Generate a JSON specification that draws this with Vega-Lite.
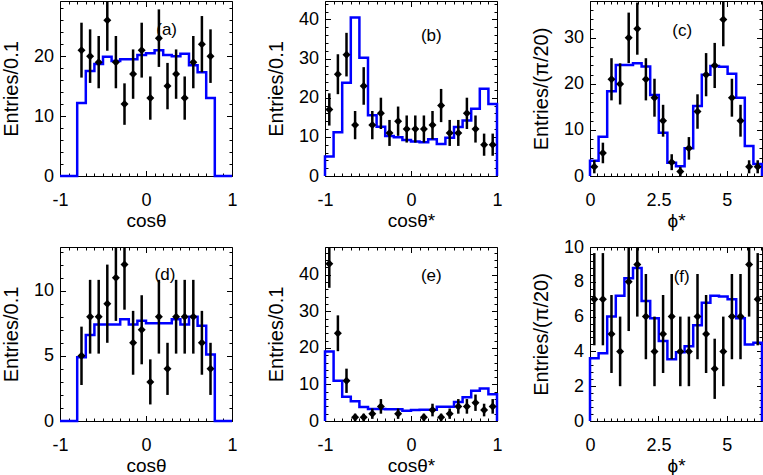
{
"$schema": "https://vega.github.io/schema/vega-lite/v6.json",
"padding": {"left": 0, "top": 0, "right": 0, "bottom": 0},
"background": "white",
"columns": 3,
"spacing": {"row": 71, "column": 93},
"bounds": "flush",
"datasets": {
"hA": [{"i":0,"x":-1,"y":0},{"i":1,"x":-1,"y":0},{"i":2,"x":-0.9,"y":0},{"i":3,"x":-0.8,"y":12.2},{"i":4,"x":-0.7,"y":17.5},{"i":5,"x":-0.6,"y":18.7},{"i":6,"x":-0.5,"y":19.9},{"i":7,"x":-0.4,"y":19.2},{"i":8,"x":-0.3,"y":19.5},{"i":9,"x":-0.2,"y":19.5},{"i":10,"x":-0.1,"y":20.2},{"i":11,"x":0,"y":20.5},{"i":12,"x":0.1,"y":21},{"i":13,"x":0.2,"y":20.2},{"i":14,"x":0.3,"y":20},{"i":15,"x":0.4,"y":20.4},{"i":16,"x":0.5,"y":18.5},{"i":17,"x":0.6,"y":17.3},{"i":18,"x":0.7,"y":13},{"i":19,"x":0.8,"y":0},{"i":20,"x":0.9,"y":0},{"i":21,"x":1,"y":0},{"i":22,"x":1,"y":0}],
"pA": [{"x":-0.75,"n":21,"lo":16.42,"hi":25.58},{"x":-0.65,"n":20,"lo":15.53,"hi":24.47},{"x":-0.55,"n":19,"lo":14.64,"hi":23.36},{"x":-0.45,"n":26,"lo":20.9,"hi":31.1},{"x":-0.35,"n":19,"lo":14.64,"hi":23.36},{"x":-0.25,"n":12,"lo":8.54,"hi":15.46},{"x":-0.15,"n":17,"lo":12.88,"hi":21.12},{"x":-0.05,"n":21,"lo":16.42,"hi":25.58},{"x":0.05,"n":13,"lo":9.39,"hi":16.61},{"x":0.15,"n":23,"lo":18.2,"hi":27.8},{"x":0.25,"n":15,"lo":11.13,"hi":18.87},{"x":0.35,"n":17,"lo":12.88,"hi":21.12},{"x":0.45,"n":13,"lo":9.39,"hi":16.61},{"x":0.55,"n":19,"lo":14.64,"hi":23.36},{"x":0.65,"n":22,"lo":17.31,"hi":26.69},{"x":0.75,"n":20,"lo":15.53,"hi":24.47}],
"hB": [{"i":0,"x":-1,"y":0},{"i":1,"x":-1,"y":5},{"i":2,"x":-0.9,"y":11.2},{"i":3,"x":-0.8,"y":23.8},{"i":4,"x":-0.7,"y":40.5},{"i":5,"x":-0.6,"y":30.2},{"i":6,"x":-0.5,"y":15.5},{"i":7,"x":-0.4,"y":12.6},{"i":8,"x":-0.3,"y":10.2},{"i":9,"x":-0.2,"y":9.9},{"i":10,"x":-0.1,"y":9.2},{"i":11,"x":0,"y":8.8},{"i":12,"x":0.1,"y":8.6},{"i":13,"x":0.2,"y":9.4},{"i":14,"x":0.3,"y":8.2},{"i":15,"x":0.4,"y":9.8},{"i":16,"x":0.5,"y":12.5},{"i":17,"x":0.6,"y":14.2},{"i":18,"x":0.7,"y":17.2},{"i":19,"x":0.8,"y":22.3},{"i":20,"x":0.9,"y":18.4},{"i":21,"x":1,"y":18.4},{"i":22,"x":1,"y":0}],
"pB": [{"x":-0.95,"n":17,"lo":12.88,"hi":21.12},{"x":-0.85,"n":26,"lo":20.9,"hi":31.1},{"x":-0.75,"n":31,"lo":25.43,"hi":36.57},{"x":-0.65,"n":13,"lo":9.39,"hi":16.61},{"x":-0.55,"n":23,"lo":18.2,"hi":27.8},{"x":-0.45,"n":13,"lo":9.39,"hi":16.61},{"x":-0.35,"n":16,"lo":12,"hi":20},{"x":-0.25,"n":11,"lo":7.68,"hi":14.32},{"x":-0.15,"n":14,"lo":10.26,"hi":17.74},{"x":-0.05,"n":12,"lo":8.54,"hi":15.46},{"x":0.05,"n":12,"lo":8.54,"hi":15.46},{"x":0.15,"n":12,"lo":8.54,"hi":15.46},{"x":0.25,"n":13,"lo":9.39,"hi":16.61},{"x":0.35,"n":18,"lo":13.76,"hi":22.24},{"x":0.45,"n":11,"lo":7.68,"hi":14.32},{"x":0.55,"n":11,"lo":7.68,"hi":14.32},{"x":0.65,"n":16,"lo":12,"hi":20},{"x":0.75,"n":12,"lo":8.54,"hi":15.46},{"x":0.85,"n":8,"lo":5.17,"hi":10.83},{"x":0.95,"n":8,"lo":5.17,"hi":10.83}],
"hC": [{"i":0,"x":0,"y":0},{"i":1,"x":0,"y":3.3},{"i":2,"x":0.314,"y":8.5},{"i":3,"x":0.628,"y":18.4},{"i":4,"x":0.942,"y":24.1},{"i":5,"x":1.257,"y":24.1},{"i":6,"x":1.571,"y":24.5},{"i":7,"x":1.885,"y":23.8},{"i":8,"x":2.199,"y":17.6},{"i":9,"x":2.513,"y":9.4},{"i":10,"x":2.827,"y":2.9},{"i":11,"x":3.142,"y":2.1},{"i":12,"x":3.456,"y":6},{"i":13,"x":3.77,"y":15.2},{"i":14,"x":4.084,"y":22},{"i":15,"x":4.398,"y":23.9},{"i":16,"x":4.712,"y":23.7},{"i":17,"x":5.027,"y":22.2},{"i":18,"x":5.341,"y":17},{"i":19,"x":5.655,"y":6.5},{"i":20,"x":5.969,"y":2.6},{"i":21,"x":6.283,"y":2.6},{"i":22,"x":6.283,"y":0}],
"pC": [{"x":0.157,"n":2,"lo":0.586,"hi":3.414},{"x":0.471,"n":5,"lo":2.764,"hi":7.236},{"x":0.785,"n":21,"lo":16.42,"hi":25.58},{"x":1.1,"n":20,"lo":15.53,"hi":24.47},{"x":1.414,"n":30,"lo":24.52,"hi":35.48},{"x":1.728,"n":32,"lo":26.34,"hi":37.66},{"x":2.042,"n":21,"lo":16.42,"hi":25.58},{"x":2.356,"n":17,"lo":12.88,"hi":21.12},{"x":2.67,"n":12,"lo":8.54,"hi":15.46},{"x":2.985,"n":3,"lo":1.27,"hi":4.73},{"x":3.299,"n":1,"lo":0,"hi":2},{"x":3.613,"n":6,"lo":3.55,"hi":8.45},{"x":3.927,"n":14,"lo":10.26,"hi":17.74},{"x":4.241,"n":22,"lo":17.31,"hi":26.69},{"x":4.555,"n":24,"lo":19.1,"hi":28.9},{"x":4.869,"n":34,"lo":28.17,"hi":39.83},{"x":5.184,"n":17,"lo":12.88,"hi":21.12},{"x":5.498,"n":12,"lo":8.54,"hi":15.46},{"x":5.812,"n":2,"lo":0.586,"hi":3.414},{"x":6.126,"n":2,"lo":0.586,"hi":3.414}],
"hD": [{"i":0,"x":-1,"y":0},{"i":1,"x":-1,"y":0},{"i":2,"x":-0.9,"y":0},{"i":3,"x":-0.8,"y":4.9},{"i":4,"x":-0.7,"y":6.6},{"i":5,"x":-0.6,"y":7.4},{"i":6,"x":-0.5,"y":7.4},{"i":7,"x":-0.4,"y":7.4},{"i":8,"x":-0.3,"y":7.8},{"i":9,"x":-0.2,"y":7.4},{"i":10,"x":-0.1,"y":7.7},{"i":11,"x":0,"y":7.5},{"i":12,"x":0.1,"y":7.5},{"i":13,"x":0.2,"y":7.5},{"i":14,"x":0.3,"y":7.8},{"i":15,"x":0.4,"y":7.4},{"i":16,"x":0.5,"y":8},{"i":17,"x":0.6,"y":7.3},{"i":18,"x":0.7,"y":5.1},{"i":19,"x":0.8,"y":0},{"i":20,"x":0.9,"y":0},{"i":21,"x":1,"y":0},{"i":22,"x":1,"y":0}],
"pD": [{"x":-0.75,"n":5,"lo":2.76,"hi":7.24},{"x":-0.65,"n":8,"lo":5.17,"hi":10.83},{"x":-0.55,"n":8,"lo":5.17,"hi":10.83},{"x":-0.45,"n":9,"lo":6,"hi":12},{"x":-0.35,"n":11,"lo":7.68,"hi":14.32},{"x":-0.25,"n":12,"lo":8.54,"hi":15.46},{"x":-0.15,"n":6,"lo":3.55,"hi":8.45},{"x":-0.05,"n":7,"lo":4.35,"hi":9.65},{"x":0.05,"n":3,"lo":1.27,"hi":4.73},{"x":0.15,"n":8,"lo":5.17,"hi":10.83},{"x":0.25,"n":4,"lo":2,"hi":6},{"x":0.35,"n":8,"lo":5.17,"hi":10.83},{"x":0.45,"n":8,"lo":5.17,"hi":10.83},{"x":0.55,"n":8,"lo":5.17,"hi":10.83},{"x":0.65,"n":6,"lo":3.55,"hi":8.45},{"x":0.75,"n":4,"lo":2,"hi":6}],
"hE": [{"i":0,"x":-1,"y":0},{"i":1,"x":-1,"y":19},{"i":2,"x":-0.9,"y":11},{"i":3,"x":-0.8,"y":6.6},{"i":4,"x":-0.7,"y":5.4},{"i":5,"x":-0.6,"y":3.8},{"i":6,"x":-0.5,"y":3.3},{"i":7,"x":-0.4,"y":3.3},{"i":8,"x":-0.3,"y":3.2},{"i":9,"x":-0.2,"y":3.2},{"i":10,"x":-0.1,"y":2.8},{"i":11,"x":0,"y":3},{"i":12,"x":0.1,"y":3.1},{"i":13,"x":0.2,"y":3.1},{"i":14,"x":0.3,"y":3.9},{"i":15,"x":0.4,"y":3.9},{"i":16,"x":0.5,"y":5.2},{"i":17,"x":0.6,"y":6.5},{"i":18,"x":0.7,"y":8.3},{"i":19,"x":0.8,"y":8.9},{"i":20,"x":0.9,"y":7.3},{"i":21,"x":1,"y":7.3},{"i":22,"x":1,"y":0}],
"pE": [{"x":-0.95,"n":43,"lo":36.44,"hi":49.56},{"x":-0.85,"n":24,"lo":19.1,"hi":28.9},{"x":-0.75,"n":11,"lo":7.68,"hi":14.32},{"x":-0.65,"n":1,"lo":0,"hi":2},{"x":-0.55,"n":1,"lo":0,"hi":2},{"x":-0.45,"n":2,"lo":0.586,"hi":3.414},{"x":-0.35,"n":4,"lo":2,"hi":6},{"x":-0.15,"n":2,"lo":0.586,"hi":3.414},{"x":0.15,"n":1,"lo":0,"hi":2},{"x":0.25,"n":3,"lo":1.27,"hi":4.73},{"x":0.35,"n":1,"lo":0,"hi":2},{"x":0.45,"n":2,"lo":0.586,"hi":3.414},{"x":0.55,"n":4,"lo":2,"hi":6},{"x":0.65,"n":4,"lo":2,"hi":6},{"x":0.75,"n":5,"lo":2.76,"hi":7.24},{"x":0.85,"n":3,"lo":1.27,"hi":4.73},{"x":0.95,"n":4,"lo":2,"hi":6}],
"hF": [{"i":0,"x":0,"y":0},{"i":1,"x":0,"y":3.6},{"i":2,"x":0.314,"y":3.9},{"i":3,"x":0.628,"y":6},{"i":4,"x":0.942,"y":7.2},{"i":5,"x":1.257,"y":8.2},{"i":6,"x":1.571,"y":8.8},{"i":7,"x":1.885,"y":6.9},{"i":8,"x":2.199,"y":5.9},{"i":9,"x":2.513,"y":4.6},{"i":10,"x":2.827,"y":3.55},{"i":11,"x":3.142,"y":3.95},{"i":12,"x":3.456,"y":4.3},{"i":13,"x":3.77,"y":5.5},{"i":14,"x":4.084,"y":6.8},{"i":15,"x":4.398,"y":7.2},{"i":16,"x":4.712,"y":7.15},{"i":17,"x":5.027,"y":7},{"i":18,"x":5.341,"y":5.9},{"i":19,"x":5.655,"y":4.4},{"i":20,"x":5.969,"y":4.5},{"i":21,"x":6.283,"y":4.5},{"i":22,"x":6.283,"y":0}],
"pF": [{"x":0.157,"n":7,"lo":4.35,"hi":9.65},{"x":0.471,"n":7,"lo":4.35,"hi":9.65},{"x":0.785,"n":5,"lo":2.76,"hi":7.24},{"x":1.1,"n":4,"lo":2,"hi":6},{"x":1.414,"n":8,"lo":5.17,"hi":10.83},{"x":1.728,"n":9,"lo":6,"hi":12},{"x":2.042,"n":6,"lo":3.55,"hi":8.45},{"x":2.356,"n":4,"lo":2,"hi":6},{"x":2.67,"n":5,"lo":2.76,"hi":7.24},{"x":2.985,"n":6,"lo":3.55,"hi":8.45},{"x":3.299,"n":4,"lo":2,"hi":6},{"x":3.613,"n":4,"lo":2,"hi":6},{"x":3.927,"n":6,"lo":3.55,"hi":8.45},{"x":4.241,"n":5,"lo":2.76,"hi":7.24},{"x":4.555,"n":3,"lo":1.27,"hi":4.73},{"x":4.869,"n":4,"lo":2,"hi":6},{"x":5.184,"n":6,"lo":3.55,"hi":8.45},{"x":5.498,"n":6,"lo":3.55,"hi":8.45},{"x":5.812,"n":9,"lo":6,"hi":12},{"x":6.126,"n":7,"lo":4.35,"hi":9.65}]
},
"concat": [
{"width":172,"height":175,"resolve":{"axis":{"x":"independent","y":"independent"}},
"layer":[
{"data":{"values":[{"label":"(a)"}]},"mark":{"type":"text","font":"Liberation Sans","fontSize":17,"color":"black","align":"center","baseline":"middle"},
"encoding":{"x":{"datum":0.24,"type":"quantitative","scale":{"domain":[-1,1],"nice":false,"zero":false},"axis":{"orient":"top","values":[-0.9,-0.8,-0.7,-0.6,-0.5,-0.4,-0.3,-0.2,-0.1,0.1,0.2,0.3,0.4,0.5,0.6,0.7,0.8,0.9],"tickSize":-3,"labels":false,"title":null}},
"y":{"datum":24.3,"type":"quantitative","scale":{"domain":[0,29.2],"nice":false,"zero":false},"axis":{"orient":"right","values":[2,4,6,8,12,14,16,18,22,24,26,28],"tickSize":-3,"labels":false,"title":null}},
"text":{"field":"label"}}},
{"data":{"name":"hA"},"mark":{"type":"line","interpolate":"step-after","color":"#0000ff","strokeWidth":2.5},
"encoding":{"x":{"field":"x","type":"quantitative","scale":{"domain":[-1,1],"nice":false,"zero":false},"axis":{"orient":"bottom","values":[-1,0,1],"tickSize":-5.5,"labelPadding":21,"labelExpr":"toString(datum.value)","title":"cosθ","titlePadding":2.3,"titleFontSize":19}},
"y":{"field":"y","type":"quantitative","scale":{"domain":[0,29.2],"nice":false,"zero":false},"axis":{"orient":"left","values":[0,10,20],"tickSize":-5.5,"labelPadding":12,"title":"Entries/0.1","titlePadding":12}},
"order":{"field":"i"}}},
{"data":{"name":"pA"},"mark":{"type":"rule","color":"black","strokeWidth":2.5,"clip":true},
"encoding":{"x":{"field":"x","type":"quantitative","scale":{"domain":[-1,1],"nice":false,"zero":false},"axis":{"orient":"bottom","values":[-0.9,-0.8,-0.7,-0.6,-0.5,-0.4,-0.3,-0.2,-0.1,0.1,0.2,0.3,0.4,0.5,0.6,0.7,0.8,0.9],"tickSize":-3,"labels":false,"title":null}},
"y":{"field":"lo","type":"quantitative","scale":{"domain":[0,29.2],"nice":false,"zero":false},"axis":{"orient":"left","values":[2,4,6,8,12,14,16,18,22,24,26,28],"tickSize":-3,"labels":false,"title":null}},
"y2":{"field":"hi"}}},
{"data":{"name":"pA"},"mark":{"type":"point","shape":"diamond","filled":true,"color":"black","size":64,"opacity":1},
"encoding":{"x":{"field":"x","type":"quantitative","scale":{"domain":[-1,1],"nice":false,"zero":false},"axis":{"orient":"top","values":[-1,0,1],"tickSize":-5.5,"labels":false,"title":null}},
"y":{"field":"n","type":"quantitative","scale":{"domain":[0,29.2],"nice":false,"zero":false},"axis":{"orient":"right","values":[0,10,20],"tickSize":-5.5,"labels":false,"title":null}}}}
]},
{"width":172,"height":175,"resolve":{"axis":{"x":"independent","y":"independent"}},
"layer":[
{"data":{"values":[{"label":"(b)"}]},"mark":{"type":"text","font":"Liberation Sans","fontSize":17,"color":"black","align":"center","baseline":"middle"},
"encoding":{"x":{"datum":0.236,"type":"quantitative","scale":{"domain":[-1,1],"nice":false,"zero":false},"axis":{"orient":"top","values":[-0.9,-0.8,-0.7,-0.6,-0.5,-0.4,-0.3,-0.2,-0.1,0.1,0.2,0.3,0.4,0.5,0.6,0.7,0.8,0.9],"tickSize":-3,"labels":false,"title":null}},
"y":{"datum":35.7,"type":"quantitative","scale":{"domain":[0,44.7],"nice":false,"zero":false},"axis":{"orient":"right","values":[2,4,6,8,12,14,16,18,22,24,26,28,32,34,36,38,42,44],"tickSize":-3,"labels":false,"title":null}},
"text":{"field":"label"}}},
{"data":{"name":"hB"},"mark":{"type":"line","interpolate":"step-after","color":"#0000ff","strokeWidth":2.5},
"encoding":{"x":{"field":"x","type":"quantitative","scale":{"domain":[-1,1],"nice":false,"zero":false},"axis":{"orient":"bottom","values":[-1,0,1],"tickSize":-5.5,"labelPadding":21,"labelExpr":"toString(datum.value)","title":"cosθ*","titlePadding":2.3,"titleFontSize":19}},
"y":{"field":"y","type":"quantitative","scale":{"domain":[0,44.7],"nice":false,"zero":false},"axis":{"orient":"left","values":[0,10,20,30,40],"tickSize":-5.5,"labelPadding":12,"title":"Entries/0.1","titlePadding":12}},
"order":{"field":"i"}}},
{"data":{"name":"pB"},"mark":{"type":"rule","color":"black","strokeWidth":2.5,"clip":true},
"encoding":{"x":{"field":"x","type":"quantitative","scale":{"domain":[-1,1],"nice":false,"zero":false},"axis":{"orient":"bottom","values":[-0.9,-0.8,-0.7,-0.6,-0.5,-0.4,-0.3,-0.2,-0.1,0.1,0.2,0.3,0.4,0.5,0.6,0.7,0.8,0.9],"tickSize":-3,"labels":false,"title":null}},
"y":{"field":"lo","type":"quantitative","scale":{"domain":[0,44.7],"nice":false,"zero":false},"axis":{"orient":"left","values":[2,4,6,8,12,14,16,18,22,24,26,28,32,34,36,38,42,44],"tickSize":-3,"labels":false,"title":null}},
"y2":{"field":"hi"}}},
{"data":{"name":"pB"},"mark":{"type":"point","shape":"diamond","filled":true,"color":"black","size":64,"opacity":1},
"encoding":{"x":{"field":"x","type":"quantitative","scale":{"domain":[-1,1],"nice":false,"zero":false},"axis":{"orient":"top","values":[-1,0,1],"tickSize":-5.5,"labels":false,"title":null}},
"y":{"field":"n","type":"quantitative","scale":{"domain":[0,44.7],"nice":false,"zero":false},"axis":{"orient":"right","values":[0,10,20,30,40],"tickSize":-5.5,"labels":false,"title":null}}}}
]},
{"width":172,"height":175,"resolve":{"axis":{"x":"independent","y":"independent"}},
"layer":[
{"data":{"values":[{"label":"(c)"}]},"mark":{"type":"text","font":"Liberation Sans","fontSize":17,"color":"black","align":"center","baseline":"middle"},
"encoding":{"x":{"datum":3.37,"type":"quantitative","scale":{"domain":[0,6.2832],"nice":false,"zero":false},"axis":{"orient":"top","values":[0.25,0.5,0.75,1,1.25,1.5,1.75,2,2.25,2.75,3,3.25,3.5,3.75,4,4.25,4.5,4.75,5.25,5.5,5.75,6,6.25],"tickSize":-3,"labels":false,"title":null}},
"y":{"datum":31.5,"type":"quantitative","scale":{"domain":[0,38],"nice":false,"zero":false},"axis":{"orient":"right","values":[2,4,6,8,12,14,16,18,22,24,26,28,32,34,36,38],"tickSize":-3,"labels":false,"title":null}},
"text":{"field":"label"}}},
{"data":{"name":"hC"},"mark":{"type":"line","interpolate":"step-after","color":"#0000ff","strokeWidth":2.5},
"encoding":{"x":{"field":"x","type":"quantitative","scale":{"domain":[0,6.2832],"nice":false,"zero":false},"axis":{"orient":"bottom","values":[0,2.5,5],"tickSize":-5.5,"labelPadding":21,"labelExpr":"toString(datum.value)","title":"ϕ*","titlePadding":2.3,"titleFontSize":19}},
"y":{"field":"y","type":"quantitative","scale":{"domain":[0,38],"nice":false,"zero":false},"axis":{"orient":"left","values":[0,10,20,30],"tickSize":-5.5,"labelPadding":12,"title":"Entries/(π/20)","titlePadding":12}},
"order":{"field":"i"}}},
{"data":{"name":"pC"},"mark":{"type":"rule","color":"black","strokeWidth":2.5,"clip":true},
"encoding":{"x":{"field":"x","type":"quantitative","scale":{"domain":[0,6.2832],"nice":false,"zero":false},"axis":{"orient":"bottom","values":[0.25,0.5,0.75,1,1.25,1.5,1.75,2,2.25,2.75,3,3.25,3.5,3.75,4,4.25,4.5,4.75,5.25,5.5,5.75,6,6.25],"tickSize":-3,"labels":false,"title":null}},
"y":{"field":"lo","type":"quantitative","scale":{"domain":[0,38],"nice":false,"zero":false},"axis":{"orient":"left","values":[2,4,6,8,12,14,16,18,22,24,26,28,32,34,36,38],"tickSize":-3,"labels":false,"title":null}},
"y2":{"field":"hi"}}},
{"data":{"name":"pC"},"mark":{"type":"point","shape":"diamond","filled":true,"color":"black","size":64,"opacity":1},
"encoding":{"x":{"field":"x","type":"quantitative","scale":{"domain":[0,6.2832],"nice":false,"zero":false},"axis":{"orient":"top","values":[0,2.5,5],"tickSize":-5.5,"labels":false,"title":null}},
"y":{"field":"n","type":"quantitative","scale":{"domain":[0,38],"nice":false,"zero":false},"axis":{"orient":"right","values":[0,10,20,30],"tickSize":-5.5,"labels":false,"title":null}}}}
]},
{"width":172,"height":174,"resolve":{"axis":{"x":"independent","y":"independent"}},
"layer":[
{"data":{"values":[{"label":"(d)"}]},"mark":{"type":"text","font":"Liberation Sans","fontSize":17,"color":"black","align":"center","baseline":"middle"},
"encoding":{"x":{"datum":0.22,"type":"quantitative","scale":{"domain":[-1,1],"nice":false,"zero":false},"axis":{"orient":"top","values":[-0.9,-0.8,-0.7,-0.6,-0.5,-0.4,-0.3,-0.2,-0.1,0.1,0.2,0.3,0.4,0.5,0.6,0.7,0.8,0.9],"tickSize":-3,"labels":false,"title":null}},
"y":{"datum":11.2,"type":"quantitative","scale":{"domain":[0,13.35],"nice":false,"zero":false},"axis":{"orient":"right","values":[1,2,3,4,6,7,8,9,11,12,13],"tickSize":-3,"labels":false,"title":null}},
"text":{"field":"label"}}},
{"data":{"name":"hD"},"mark":{"type":"line","interpolate":"step-after","color":"#0000ff","strokeWidth":2.5},
"encoding":{"x":{"field":"x","type":"quantitative","scale":{"domain":[-1,1],"nice":false,"zero":false},"axis":{"orient":"bottom","values":[-1,0,1],"tickSize":-5.5,"labelPadding":21,"labelExpr":"toString(datum.value)","title":"cosθ","titlePadding":2.3,"titleFontSize":19}},
"y":{"field":"y","type":"quantitative","scale":{"domain":[0,13.35],"nice":false,"zero":false},"axis":{"orient":"left","values":[0,5,10],"tickSize":-5.5,"labelPadding":12,"title":"Entries/0.1","titlePadding":12}},
"order":{"field":"i"}}},
{"data":{"name":"pD"},"mark":{"type":"rule","color":"black","strokeWidth":2.5,"clip":true},
"encoding":{"x":{"field":"x","type":"quantitative","scale":{"domain":[-1,1],"nice":false,"zero":false},"axis":{"orient":"bottom","values":[-0.9,-0.8,-0.7,-0.6,-0.5,-0.4,-0.3,-0.2,-0.1,0.1,0.2,0.3,0.4,0.5,0.6,0.7,0.8,0.9],"tickSize":-3,"labels":false,"title":null}},
"y":{"field":"lo","type":"quantitative","scale":{"domain":[0,13.35],"nice":false,"zero":false},"axis":{"orient":"left","values":[1,2,3,4,6,7,8,9,11,12,13],"tickSize":-3,"labels":false,"title":null}},
"y2":{"field":"hi"}}},
{"data":{"name":"pD"},"mark":{"type":"point","shape":"diamond","filled":true,"color":"black","size":64,"opacity":1},
"encoding":{"x":{"field":"x","type":"quantitative","scale":{"domain":[-1,1],"nice":false,"zero":false},"axis":{"orient":"top","values":[-1,0,1],"tickSize":-5.5,"labels":false,"title":null}},
"y":{"field":"n","type":"quantitative","scale":{"domain":[0,13.35],"nice":false,"zero":false},"axis":{"orient":"right","values":[0,5,10],"tickSize":-5.5,"labels":false,"title":null}}}}
]},
{"width":172,"height":174,"resolve":{"axis":{"x":"independent","y":"independent"}},
"layer":[
{"data":{"values":[{"label":"(e)"}]},"mark":{"type":"text","font":"Liberation Sans","fontSize":17,"color":"black","align":"center","baseline":"middle"},
"encoding":{"x":{"datum":0.236,"type":"quantitative","scale":{"domain":[-1,1],"nice":false,"zero":false},"axis":{"orient":"top","values":[-0.9,-0.8,-0.7,-0.6,-0.5,-0.4,-0.3,-0.2,-0.1,0.1,0.2,0.3,0.4,0.5,0.6,0.7,0.8,0.9],"tickSize":-3,"labels":false,"title":null}},
"y":{"datum":39.6,"type":"quantitative","scale":{"domain":[0,47.6],"nice":false,"zero":false},"axis":{"orient":"right","values":[2,4,6,8,12,14,16,18,22,24,26,28,32,34,36,38,42,44,46],"tickSize":-3,"labels":false,"title":null}},
"text":{"field":"label"}}},
{"data":{"name":"hE"},"mark":{"type":"line","interpolate":"step-after","color":"#0000ff","strokeWidth":2.5},
"encoding":{"x":{"field":"x","type":"quantitative","scale":{"domain":[-1,1],"nice":false,"zero":false},"axis":{"orient":"bottom","values":[-1,0,1],"tickSize":-5.5,"labelPadding":21,"labelExpr":"toString(datum.value)","title":"cosθ*","titlePadding":2.3,"titleFontSize":19}},
"y":{"field":"y","type":"quantitative","scale":{"domain":[0,47.6],"nice":false,"zero":false},"axis":{"orient":"left","values":[0,10,20,30,40],"tickSize":-5.5,"labelPadding":12,"title":"Entries/0.1","titlePadding":12}},
"order":{"field":"i"}}},
{"data":{"name":"pE"},"mark":{"type":"rule","color":"black","strokeWidth":2.5,"clip":true},
"encoding":{"x":{"field":"x","type":"quantitative","scale":{"domain":[-1,1],"nice":false,"zero":false},"axis":{"orient":"bottom","values":[-0.9,-0.8,-0.7,-0.6,-0.5,-0.4,-0.3,-0.2,-0.1,0.1,0.2,0.3,0.4,0.5,0.6,0.7,0.8,0.9],"tickSize":-3,"labels":false,"title":null}},
"y":{"field":"lo","type":"quantitative","scale":{"domain":[0,47.6],"nice":false,"zero":false},"axis":{"orient":"left","values":[2,4,6,8,12,14,16,18,22,24,26,28,32,34,36,38,42,44,46],"tickSize":-3,"labels":false,"title":null}},
"y2":{"field":"hi"}}},
{"data":{"name":"pE"},"mark":{"type":"point","shape":"diamond","filled":true,"color":"black","size":64,"opacity":1},
"encoding":{"x":{"field":"x","type":"quantitative","scale":{"domain":[-1,1],"nice":false,"zero":false},"axis":{"orient":"top","values":[-1,0,1],"tickSize":-5.5,"labels":false,"title":null}},
"y":{"field":"n","type":"quantitative","scale":{"domain":[0,47.6],"nice":false,"zero":false},"axis":{"orient":"right","values":[0,10,20,30,40],"tickSize":-5.5,"labels":false,"title":null}}}}
]},
{"width":172,"height":174,"resolve":{"axis":{"x":"independent","y":"independent"}},
"layer":[
{"data":{"values":[{"label":"(f)"}]},"mark":{"type":"text","font":"Liberation Sans","fontSize":17,"color":"black","align":"center","baseline":"middle"},
"encoding":{"x":{"datum":3.35,"type":"quantitative","scale":{"domain":[0,6.2832],"nice":false,"zero":false},"axis":{"orient":"top","values":[0.25,0.5,0.75,1,1.25,1.5,1.75,2,2.25,2.75,3,3.25,3.5,3.75,4,4.25,4.5,4.75,5.25,5.5,5.75,6,6.25],"tickSize":-3,"labels":false,"title":null}},
"y":{"datum":8.26,"type":"quantitative","scale":{"domain":[0,10],"nice":false,"zero":false},"axis":{"orient":"right","values":[0.4,0.8,1.2,1.6,2.4,2.8,3.2,3.6,4.4,4.8,5.2,5.6,6.4,6.8,7.2,7.6,8.4,8.8,9.2,9.6],"tickSize":-3,"labels":false,"title":null}},
"text":{"field":"label"}}},
{"data":{"name":"hF"},"mark":{"type":"line","interpolate":"step-after","color":"#0000ff","strokeWidth":2.5},
"encoding":{"x":{"field":"x","type":"quantitative","scale":{"domain":[0,6.2832],"nice":false,"zero":false},"axis":{"orient":"bottom","values":[0,2.5,5],"tickSize":-5.5,"labelPadding":21,"labelExpr":"toString(datum.value)","title":"ϕ*","titlePadding":2.3,"titleFontSize":19}},
"y":{"field":"y","type":"quantitative","scale":{"domain":[0,10],"nice":false,"zero":false},"axis":{"orient":"left","values":[0,2,4,6,8,10],"tickSize":-5.5,"labelPadding":12,"title":"Entries/(π/20)","titlePadding":12}},
"order":{"field":"i"}}},
{"data":{"name":"pF"},"mark":{"type":"rule","color":"black","strokeWidth":2.5,"clip":true},
"encoding":{"x":{"field":"x","type":"quantitative","scale":{"domain":[0,6.2832],"nice":false,"zero":false},"axis":{"orient":"bottom","values":[0.25,0.5,0.75,1,1.25,1.5,1.75,2,2.25,2.75,3,3.25,3.5,3.75,4,4.25,4.5,4.75,5.25,5.5,5.75,6,6.25],"tickSize":-3,"labels":false,"title":null}},
"y":{"field":"lo","type":"quantitative","scale":{"domain":[0,10],"nice":false,"zero":false},"axis":{"orient":"left","values":[0.4,0.8,1.2,1.6,2.4,2.8,3.2,3.6,4.4,4.8,5.2,5.6,6.4,6.8,7.2,7.6,8.4,8.8,9.2,9.6],"tickSize":-3,"labels":false,"title":null}},
"y2":{"field":"hi"}}},
{"data":{"name":"pF"},"mark":{"type":"point","shape":"diamond","filled":true,"color":"black","size":64,"opacity":1},
"encoding":{"x":{"field":"x","type":"quantitative","scale":{"domain":[0,6.2832],"nice":false,"zero":false},"axis":{"orient":"top","values":[0,2.5,5],"tickSize":-5.5,"labels":false,"title":null}},
"y":{"field":"n","type":"quantitative","scale":{"domain":[0,10],"nice":false,"zero":false},"axis":{"orient":"right","values":[0,2,4,6,8,10],"tickSize":-5.5,"labels":false,"title":null}}}}
]}
],
"config": {
"view": {"stroke": "black", "strokeWidth": 1},
"axis": {"labelFont": "Liberation Sans", "labelFontSize": 18, "labelColor": "black", "titleFont": "Liberation Sans", "titleFontSize": 20, "titleFontWeight": "normal", "titleColor": "black", "tickColor": "black", "tickWidth": 1, "domain": false, "grid": false, "labelFlush": false, "labelOverlap": false}
}
}
